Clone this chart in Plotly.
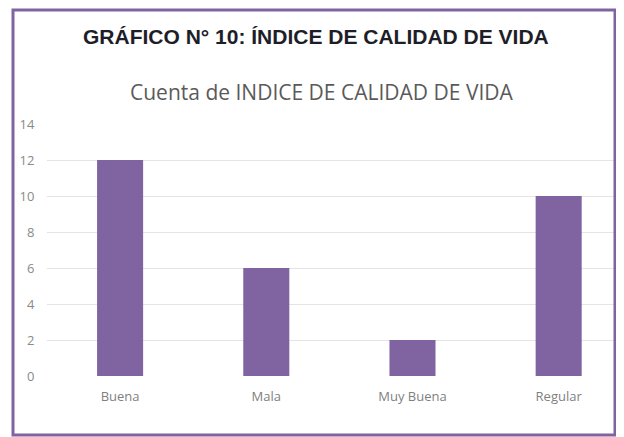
import plotly.graph_objects as go

categorias = ["Buena", "Mala", "Muy Buena", "Regular"]
cuentas = [12, 6, 2, 10]
y_ticks = [0, 2, 4, 6, 8, 10, 12, 14]

titulo = "GRÁFICO N° 10: ÍNDICE DE CALIDAD DE VIDA"
subtitulo = "Cuenta de INDICE DE CALIDAD DE VIDA"

# the page body has an 8px margin, so the figure is drawn 8px smaller
OFF = 8
W, H = 624 - OFF, 437 - OFF
L, R, T, B = 47 - OFF, 1, 124 - OFF, 69 - OFF
PURPLE = "#8064A2"


def px_x(x):
    return (x - OFF - L) / (W - L - R)


def px_y(y):
    return (H - B - (y - OFF)) / (H - T - B)


fig = go.Figure(
    go.Bar(
        x=categorias,
        y=cuentas,
        marker=dict(color=PURPLE, line=dict(width=0)),
        width=0.315,
        hoverinfo="x+y",
    )
)

fig.update_xaxes(
    range=[-0.5, 3.44],
    showgrid=False,
    showline=False,
    zeroline=False,
    ticks="outside",
    ticklen=8,
    tickcolor="rgba(0,0,0,0)",
    tickfont=dict(family="Open Sans", size=13, color="#7f7f7f"),
)
fig.update_yaxes(
    range=[0, 14],
    tickvals=y_ticks,
    showgrid=True,
    gridcolor="#e4e4e4",
    gridwidth=1,
    zeroline=False,
    showline=False,
    ticks="outside",
    ticklen=9,
    tickcolor="rgba(0,0,0,0)",
    tickfont=dict(family="Open Sans", size=13, color="#8a8a8a"),
)

fig.update_layout(
    width=W,
    height=H,
    margin=dict(l=L, r=R, t=T, b=B),
    paper_bgcolor="white",
    plot_bgcolor="white",
    showlegend=False,
    annotations=[
        dict(
            text=f"<b>{titulo}</b>",
            x=px_x(316),
            y=px_y(37),
            xref="paper",
            yref="paper",
            xanchor="center",
            yanchor="middle",
            showarrow=False,
            font=dict(family="Liberation Sans", size=21, color="#1e1e28"),
        ),
        dict(
            text=subtitulo,
            x=px_x(322),
            y=px_y(92),
            xref="paper",
            yref="paper",
            xanchor="center",
            yanchor="middle",
            showarrow=False,
            font=dict(family="Open Sans", size=21, color="#5a5a5a"),
        ),
    ],
    shapes=[
        dict(
            type="rect",
            xref="paper",
            yref="paper",
            x0=px_x(13),
            x1=px_x(615),
            y0=px_y(435),
            y1=px_y(10),
            line=dict(color=PURPLE, width=3),
            layer="above",
        )
    ],
)

fig.write_html("out.html")
